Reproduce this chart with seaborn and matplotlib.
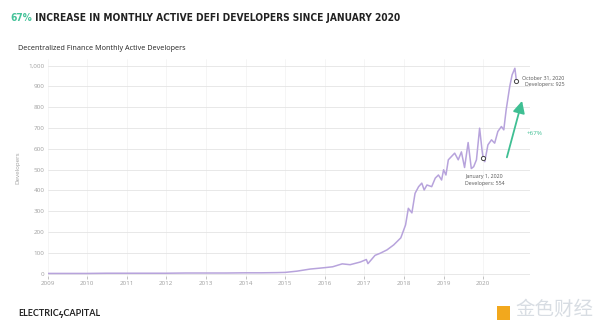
import matplotlib
matplotlib.use("Agg")
import matplotlib.pyplot as plt
from matplotlib import font_manager as fm
import seaborn as sns
import pandas as pd

# ---- data ----
years = [2009.0, 2009.5, 2010.0, 2010.5, 2011.0, 2011.5, 2012.0, 2012.5, 2013.0, 2013.5,
         2014.0, 2014.4, 2014.8, 2015.0, 2015.3, 2015.63, 2015.85, 2016.01, 2016.2, 2016.44,
         2016.64, 2016.9, 2017.05, 2017.09, 2017.27, 2017.4, 2017.57, 2017.74, 2017.92, 2018.04,
         2018.11, 2018.2, 2018.28, 2018.37, 2018.45, 2018.51, 2018.58, 2018.7, 2018.79, 2018.87,
         2018.95, 2019.0, 2019.06, 2019.12, 2019.2, 2019.28, 2019.37, 2019.45, 2019.53, 2019.62,
         2019.7, 2019.76, 2019.83, 2019.91, 2019.97, 2020.0, 2020.04, 2020.12, 2020.21, 2020.29,
         2020.37, 2020.46, 2020.52, 2020.58, 2020.67, 2020.73, 2020.8, 2020.84]
developers = [1, 1, 1, 2, 2, 2, 2, 3, 3, 3,
              4, 4, 5, 6, 12, 22, 26, 29, 33, 47,
              43, 56, 68, 48, 88, 98, 114, 138, 172, 234,
              314, 292, 386, 418, 435, 402, 426, 418, 459, 474,
              450, 499, 474, 547, 563, 579, 547, 585, 510, 630,
              505, 514, 547, 699, 595, 554, 538, 619, 643, 627,
              683, 707, 691, 787, 899, 955, 987, 925]
tick_years = [2009, 2010, 2011, 2012, 2013, 2014, 2015, 2016, 2017, 2018, 2019, 2020]
y_ticks = [0, 100, 200, 300, 400, 500, 600, 700, 800, 900, 1000]
marker_x = [2020.0, 2020.84]
marker_y = [554, 925]

df = pd.DataFrame({"year": years, "developers": developers})

sns.set_theme(style="whitegrid")
plt.rcParams['font.family'] = ['Open Sans', 'DejaVu Sans']

# pick a condensed bold face if one is installed
title_fp = None
cands = []
for f in fm.fontManager.ttflist:
    nm = (f.name + " " + str(f.stretch)).lower()
    if ("narrow" in nm or "condensed" in nm) and str(f.weight) in ("bold", "700", "600", "semibold", "demibold", "heavy", "800"):
        cands.append(f)
if not cands:
    for f in fm.fontManager.ttflist:
        nm = (f.name + " " + str(f.stretch)).lower()
        if "narrow" in nm or "condensed" in nm:
            cands.append(f)
if cands:
    title_fp = fm.FontProperties(fname=cands[0].fname)
else:
    title_fp = fm.FontProperties(family="DejaVu Sans", weight="bold")

fig = plt.figure(figsize=(6, 3.24), dpi=100)
ax = fig.add_axes([0.0792, 0.149, 0.804, 0.668])

sns.lineplot(data=df, x="year", y="developers", ax=ax, color="#b7a3dc", linewidth=1.1)
ax.scatter(marker_x, marker_y, s=9, facecolor="white", edgecolor="#444444", linewidth=0.7, zorder=5)

ax.set_xlim(2009, 2021.18)
ax.set_ylim(-10, 1030)
ax.set_xticks(tick_years)
ax.set_xticklabels([str(y) for y in tick_years])
ax.set_yticks(y_ticks)
ax.set_yticklabels([f"{v:,}" for v in y_ticks])
ax.tick_params(axis="both", labelsize=4.5, labelcolor="#a0a0a0", pad=2)
ax.tick_params(axis="x", length=2, color="#aaaaaa", bottom=True, width=0.5)
ax.tick_params(axis="y", length=0)
ax.grid(axis="y", color="#e4e4e4", linewidth=0.6)
ax.grid(axis="x", color="#f2f2f2", linewidth=0.5)
for s in ax.spines.values():
    s.set_visible(False)
ax.set_xlabel("")
ax.set_ylabel("Developers", fontsize=4.5, color="#a0a0a0", labelpad=6)

# annotations
ax.text(2020.98, 923, "October 31, 2020\nDevelopers: 925", fontsize=3.8, color="#555555",
        ha="left", va="center", multialignment="right", linespacing=1.4)
ax.text(2020.03, 478, "January 1, 2020\nDevelopers: 554", fontsize=3.8, color="#555555",
        ha="center", va="top", linespacing=1.4)
ax.annotate("", xy=(2021.0, 843), xytext=(2020.58, 546),
            arrowprops=dict(arrowstyle="-|>,head_length=0.6,head_width=0.3", color="#3fbf93", lw=1.3))
ax.text(2021.1, 675, "+67%", fontsize=4.5, color="#3fbf93", ha="left", va="center")

# title: fit into 10..400 px
title_y = 1 - 18 / 324
fs = 13
t1 = fig.text(10/600, title_y, "67%", fontproperties=title_fp, fontsize=fs, color="#46c39a",
              ha="left", va="center")
t2 = fig.text(0, title_y, " INCREASE IN MONTHLY ACTIVE DEFI DEVELOPERS SINCE JANUARY 2020",
              fontproperties=title_fp, fontsize=fs, color="#222222", ha="left", va="center")
fig.canvas.draw()
r = fig.canvas.get_renderer()
w = t1.get_window_extent(r).width + t2.get_window_extent(r).width
fs = fs * 390.0 / w
t1.set_fontsize(fs)
t2.set_fontsize(fs)
fig.canvas.draw()
w1 = t1.get_window_extent(r).width
t2.set_x((10 + w1) / 600)

fig.text(18/600, 1 - 48/324, "Decentralized Finance Monthly Active Developers", fontsize=5.2,
         color="#222222", ha="left", va="center")

# footer
fig.text(18/600, 1 - 313/324, "ELECTRIC\u03DFCAPITAL", fontsize=6.5, color="#222222",
         fontweight="bold", ha="left", va="center", family=["Lato", "DejaVu Sans"])
fig.patches.append(plt.Rectangle((497/600, 1 - 320/324), 13/600, 14/324, transform=fig.transFigure,
                                 facecolor="#f2a81d", edgecolor="none"))
fig.text(515/600, 1 - 309/324, "金色财经", fontsize=14, color="#d8dde3",
         family=["Noto Sans CJK SC", "DejaVu Sans"], ha="left", va="center")

fig.savefig("out.png", dpi=100, facecolor="white")
